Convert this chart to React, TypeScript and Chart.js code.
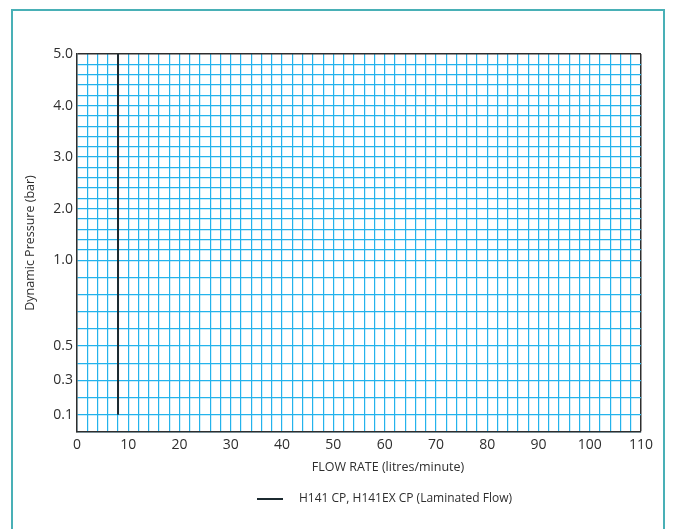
import React, { useEffect, useRef } from 'react';
import { Chart, registerables } from 'chart.js';

Chart.register(...registerables);

// ---- data ----
const flowRate = [8, 8];
const pressure = [0.1, 5.0];
const seriesLabel = 'H141 CP, H141EX CP (Laminated Flow)';
const xTickLabels = [0, 10, 20, 30, 40, 50, 60, 70, 80, 90, 100, 110];
const yTickValues = [0.1, 0.3, 0.5, 1.0, 2.0, 3.0, 4.0, 5.0];
const yTickLabels = ['0.1', '0.3', '0.5', '1.0', '2.0', '3.0', '4.0', '5.0'];
const xTitle = 'FLOW RATE (litres/minute)';
const yTitle = 'Dynamic Pressure (bar)';

// piecewise pressure axis: 0..1 bar stretched (10 units/bar), above 1 bar 3 units/bar
const toU = (p: number) => (p <= 1 ? p * 10 : 10 + (p - 1) * 3);
const round3 = (v: number) => Math.round(v * 1000) / 1000;

const FONT = '"Open Sans", Lato, sans-serif';
const GRID = '#24b3ec';
const DARK = '#2e2e2e';

const overlayText = {
  id: 'overlayText',
  afterDraw(chart: any) {
    const { ctx, chartArea } = chart;
    ctx.save();
    ctx.fillStyle = DARK;
    ctx.textBaseline = 'middle';
    // x axis title
    ctx.font = `12.5px ${FONT}`;
    ctx.textAlign = 'center';
    ctx.fillText(xTitle, chartArea.left + 311, chartArea.bottom + 35);
    // legend
    const ds = chart.data.datasets[0];
    const ly = chartArea.bottom + 67;
    const lx = chartArea.left + 180;
    ctx.strokeStyle = ds.borderColor;
    ctx.lineWidth = 2;
    ctx.beginPath();
    ctx.moveTo(lx, ly);
    ctx.lineTo(lx + 26, ly);
    ctx.stroke();
    ctx.font = `12px ${FONT}`;
    ctx.textAlign = 'left';
    ctx.fillText(ds.label, lx + 42, ly);
    ctx.restore();
  },
};

export default function App() {
  const ref = useRef<HTMLCanvasElement>(null);

  useEffect(() => {
    if (!ref.current) return;
    const yGrid: number[] = [];
    for (let i = 0; i <= 10; i++) yGrid.push(i);
    for (let k = 1; k <= 20; k++) yGrid.push(round3(10 + 0.6 * k));
    const xGrid: number[] = [];
    for (let v = 0; v <= 110; v += 2) xGrid.push(v);
    const uMax = toU(yTickValues[yTickValues.length - 1]);
    const xMax = xTickLabels[xTickLabels.length - 1];

    const chart = new Chart(ref.current, {
      type: 'line',
      data: {
        datasets: [
          {
            label: seriesLabel,
            data: flowRate.map((x, i) => ({ x, y: toU(pressure[i]) })),
            borderColor: '#1c2a30',
            borderWidth: 2,
            pointRadius: 0,
            fill: false,
          },
        ],
      },
      options: {
        animation: false,
        responsive: false,
        layout: { padding: { left: 0, right: 34, top: 54, bottom: 0 } },
        plugins: { legend: { display: false }, tooltip: { enabled: false } },
        scales: {
          x: {
            type: 'linear',
            min: 0,
            max: xMax,
            afterBuildTicks: (s: any) => {
              s.ticks = xGrid.map((value) => ({ value }));
            },
            afterFit: (s: any) => {
              s.height = 97;
            },
            ticks: {
              autoSkip: false,
              maxRotation: 0,
              padding: 5,
              color: DARK,
              font: { family: FONT, size: 14 },
              callback: (v: any) => (xTickLabels.includes(v) ? String(v) : ''),
            },
            grid: {
              drawTicks: false,
              color: (c: any) => (c.tick && c.tick.value === xMax ? DARK : GRID),
              lineWidth: (c: any) => (c.tick && c.tick.value === xMax ? 1.5 : 1.2),
            },
            border: { color: DARK, width: 1.5 },
          },
          y: {
            type: 'linear',
            min: 0,
            max: uMax,
            afterBuildTicks: (s: any) => {
              s.ticks = yGrid.map((value) => ({ value }));
            },
            afterFit: (s: any) => {
              s.width = 77;
            },
            ticks: {
              autoSkip: false,
              padding: 4,
              color: DARK,
              font: { family: FONT, size: 14 },
              callback: (v: any) => {
                const i = yTickValues.findIndex((p) => Math.abs(toU(p) - v) < 1e-6);
                return i >= 0 ? yTickLabels[i] : '';
              },
            },
            grid: {
              drawTicks: false,
              color: (c: any) => (c.tick && Math.abs(c.tick.value - uMax) < 1e-6 ? DARK : GRID),
              lineWidth: (c: any) => (c.tick && Math.abs(c.tick.value - uMax) < 1e-6 ? 1.5 : 1.2),
            },
            border: { color: DARK, width: 1.5 },
            title: {
              display: true,
              text: yTitle,
              color: DARK,
              font: { family: FONT, size: 12.5 },
              padding: { top: 23, bottom: 0 },
            },
          },
        },
      },
      plugins: [overlayText],
    });
    return () => chart.destroy();
  }, []);

  return (
    <>
      <div
        style={{
          position: 'absolute',
          left: 11,
          top: 9,
          width: 654,
          height: 600,
          border: '2px solid #49b0b6',
          boxSizing: 'border-box',
        }}
      />
      <canvas
        ref={ref}
        width={675}
        height={529}
        style={{ position: 'absolute', left: 0, top: 0, width: 675, height: 529 }}
      />
    </>
  );
}
